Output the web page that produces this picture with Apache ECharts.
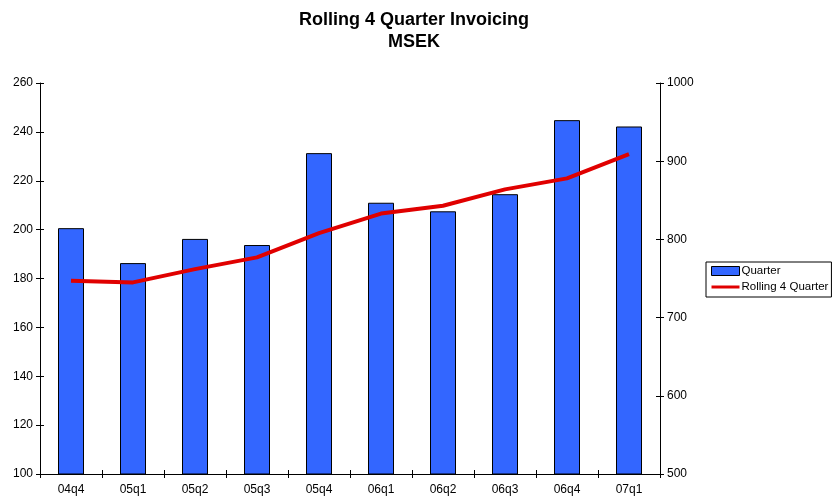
<!DOCTYPE html>
<html><head><meta charset="utf-8">
<script src="https://cdn.jsdelivr.net/npm/echarts@6/dist/echarts.min.js"></script>
<style>html,body{margin:0;padding:0;background:#fff}#c{width:839px;height:498px}</style>
</head><body><div id="c"></div>
<script>
const categories = ['04q4','05q1','05q2','05q3','05q4','06q1','06q2','06q3','06q4','07q1'];
const quarterValues = [200.6, 186.3, 196.2, 193.7, 231.3, 211.0, 207.5, 214.5, 244.8, 242.2];
const rollingValues = [747, 745, 762, 777, 808, 833, 843, 864, 878, 909];
const leftTicks = {min: 100, max: 260, interval: 20};
const rightTicks = {min: 500, max: 1000, interval: 100};

const font = 'Liberation Sans, Arial, Helvetica, sans-serif';
const chart = echarts.init(document.getElementById('c'), null, {renderer: 'canvas'});
const tickAxis = (pos, t) => ({
  type: 'value', position: pos, min: t.min, max: t.max, interval: t.interval,
  axisLine: {show: false}, axisLabel: {show: false}, splitLine: {show: false},
  axisTick: {show: true, inside: true, length: 4, lineStyle: {color: '#000', width: 1}}
});
chart.setOption({
  animation: false,
  backgroundColor: '#fff',
  title: {
    text: 'Rolling 4 Quarter Invoicing\nMSEK',
    left: 409, top: 4, textAlign: 'center',
    textStyle: {fontFamily: font, fontSize: 18, fontWeight: 'bold', color: '#000', lineHeight: 22}
  },
  legend: {
    orient: 'vertical', left: 706, top: 262,
    borderColor: '#000', borderWidth: 1, borderRadius: 0,
    padding: [3, 3, 4, 4], itemGap: 4, itemWidth: 28, itemHeight: 9,
    textStyle: {fontFamily: font, fontSize: 11.5, color: '#000', padding: [0, 0, 0, -3]},
    data: [
      {name: 'Quarter', icon: 'rect', itemStyle: {color: '#3366FF', borderColor: '#000', borderWidth: 1}},
      {name: 'Rolling 4 Quarter', itemStyle: {opacity: 0}, lineStyle: {color: '#E00000', width: 3}}
    ]
  },
  grid: {left: 40, right: 179, top: 83, bottom: 24, containLabel: false},
  xAxis: [{
    type: 'category', data: categories, boundaryGap: true,
    axisLine: {lineStyle: {color: '#000', width: 1}},
    axisTick: {show: true, length: 4, alignWithLabel: false, lineStyle: {color: '#000'}},
    axisLabel: {fontFamily: font, fontSize: 12, color: '#000', margin: 10}
  }, {
    type: 'category', data: categories, boundaryGap: true, position: 'bottom',
    axisLine: {show: false}, axisLabel: {show: false},
    axisTick: {show: true, inside: true, length: 4, lineStyle: {color: '#000'}}
  }],
  yAxis: [{
    type: 'value', position: 'left', min: leftTicks.min, max: leftTicks.max, interval: leftTicks.interval,
    axisLine: {show: true, lineStyle: {color: '#000', width: 1}},
    axisTick: {show: true, length: 4, lineStyle: {color: '#000'}},
    axisLabel: {fontFamily: font, fontSize: 12, color: '#000', margin: 7},
    splitLine: {show: false}
  }, {
    type: 'value', position: 'right', min: rightTicks.min, max: rightTicks.max, interval: rightTicks.interval,
    axisLine: {show: true, lineStyle: {color: '#000', width: 1}},
    axisTick: {show: true, length: 4, lineStyle: {color: '#000'}},
    axisLabel: {fontFamily: font, fontSize: 12, color: '#000', margin: 7, formatter: v => String(v)},
    splitLine: {show: false}
  },
  tickAxis('left', leftTicks), tickAxis('right', rightTicks)],
  series: [{
    name: 'Quarter', type: 'bar', xAxisIndex: 0, yAxisIndex: 0, data: quarterValues,
    barWidth: 26,
    itemStyle: {color: '#3366FF', borderColor: '#000', borderWidth: 1}
  }, {
    name: 'Rolling 4 Quarter', type: 'line', xAxisIndex: 0, yAxisIndex: 1, data: rollingValues,
    symbol: 'none', lineStyle: {color: '#E00000', width: 4}, itemStyle: {color: '#E00000'}
  }]
});
</script></body></html>
